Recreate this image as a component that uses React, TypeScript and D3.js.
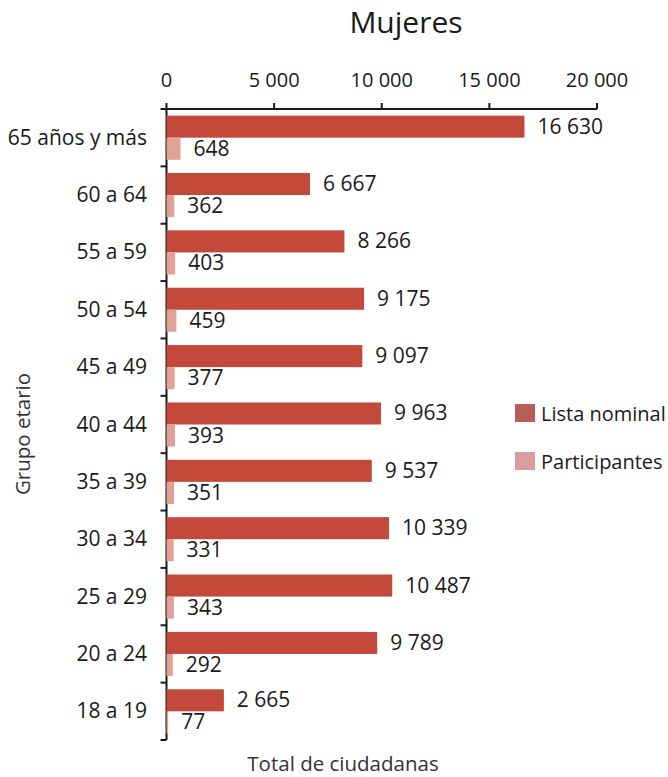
import React from "react";
import * as d3 from "d3";

const categories = ["65 años y más", "60 a 64", "55 a 59", "50 a 54", "45 a 49", "40 a 44", "35 a 39", "30 a 34", "25 a 29", "20 a 24", "18 a 19"];
const listaNominal = [16630, 6667, 8266, 9175, 9097, 9963, 9537, 10339, 10487, 9789, 2665];
const participantes = [648, 362, 403, 459, 377, 393, 351, 331, 343, 292, 77];
const xTicks = [0, 5000, 10000, 15000, 20000];
const seriesNames = ["Lista nominal", "Participantes"];

const W = 668, H = 777;
const FONT = "'Open Sans', 'Noto Sans', sans-serif";
const barColors = ["#c3493a", "#e1a195"];
const legendColors = ["#b85e5a", "#d99d9d"];

const fmt = d3.formatLocale({ decimal: ",", thousands: " ", grouping: [3], currency: ["", ""] }).format(",");

export default function App() {
  const x = d3.scaleLinear().domain([0, 20000]).range([166.5, 597]);
  const y = d3.scaleBand<string>().domain(categories).range([109, 740]).paddingInner(0).paddingOuter(0);
  const inner = d3.scaleBand<string>().domain(seriesNames).range([0, y.bandwidth()]).paddingInner(0).paddingOuter(0.3);
  const series = [listaNominal, participantes];
  const boundaries = categories.map((c) => y(c) as number).concat([740]);

  return (
    <svg width={W} height={H} style={{ position: "absolute", left: 0, top: 0, background: "#fff" }} fontFamily={FONT}>
      <text x={406} y={33} textAnchor="middle" fontSize={30} fontWeight={500} fill="#1a1a1a">Mujeres</text>
      {/* top axis */}
      <line x1={x(0)} x2={x(20000)} y1={109} y2={109} stroke="#1a1a1a" strokeWidth={2} />
      {xTicks.map((t) => (
        <g key={t}>
          <line x1={x(t)} x2={x(t)} y1={103} y2={109} stroke="#1a1a1a" strokeWidth={2} />
          <text x={x(t)} y={87} textAnchor="middle" fontSize={20} fill="#1a1a1a">{fmt(t)}</text>
        </g>
      ))}
      {/* left axis */}
      <line x1={x(0)} x2={x(0)} y1={109} y2={740} stroke="#1a1a1a" strokeWidth={2} />
      {boundaries.map((b, i) => (
        <line key={i} x1={x(0) - 6} x2={x(0)} y1={b} y2={b} stroke="#1a1a1a" strokeWidth={2} />
      ))}
      {categories.map((c, i) => (
        <g key={c}>
          <text x={147} y={(y(c) as number) + y.bandwidth() / 2 + 7} textAnchor="end" fontSize={21} fill="#1a1a1a">{c}</text>
          {series.map((s, k) => {
            const by = (y(c) as number) + (inner(seriesNames[k]) as number);
            const bh = inner.bandwidth();
            return (
              <g key={k}>
                <rect x={x(0)} y={by} width={x(s[i]) - x(0)} height={bh} fill={barColors[k]} />
                <text x={x(s[i]) + 13} y={by + bh / 2 + 7} fontSize={21} fill="#1a1a1a">{fmt(s[i])}</text>
              </g>
            );
          })}
        </g>
      ))}
      {/* legend */}
      {seriesNames.map((n, k) => (
        <g key={n}>
          <rect x={515} y={404 + k * 48} width={20} height={18} fill={legendColors[k]} />
          <text x={541} y={421 + k * 48} fontSize={20} fill="#1a1a1a">{n}</text>
        </g>
      ))}
      <text x={343} y={771} textAnchor="middle" fontSize={20.5} fill="#333">Total de ciudadanas</text>
      <text transform="translate(30,434) rotate(-90)" textAnchor="middle" fontSize={20.5} fill="#333">Grupo etario</text>
    </svg>
  );
}
